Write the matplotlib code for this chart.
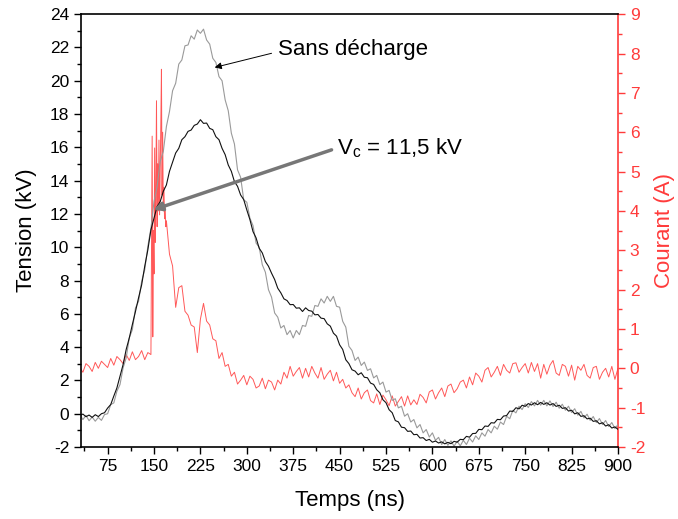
import numpy as np
import matplotlib
matplotlib.use("Agg")
import matplotlib.pyplot as plt
from matplotlib.ticker import MultipleLocator

plt.rcParams['font.family'] = ['Liberation Sans', 'DejaVu Sans']
plt.rcParams['axes.unicode_minus'] = False

# time base of the voltage records (ns)
t = np.arange(30, 901, 5)

# voltage with discharge (kV)
v_black = [-0.12, -0.02, -0.18, -0.08, -0.22, -0.06, -0.17, 0.00, 0.06, 0.34,
           0.55, 1.06, 1.55, 2.26, 2.95, 3.86, 4.55, 5.36, 6.14, 6.96,
           7.74, 8.86, 9.84, 11.05, 11.76, 12.45, 12.74, 13.36, 13.74, 14.56,
           15.12, 15.66, 15.94, 16.46, 16.64, 16.96, 17.04, 17.32, 17.40, 17.66,
           17.44, 17.46, 17.14, 17.06, 16.64, 16.46, 15.94, 15.56, 14.94, 14.56,
           13.94, 13.66, 13.14, 12.86, 12.24, 11.66, 10.94, 10.56, 9.94, 9.66,
           9.14, 8.86, 8.44, 8.06, 7.54, 7.26, 6.90, 6.80, 6.55, 6.56,
           6.34, 6.36, 6.14, 6.36, 6.20, 6.16, 5.94, 5.96, 5.74, 5.71,
           5.40, 5.26, 4.84, 4.66, 4.14, 3.86, 3.24, 3.01, 2.64, 2.56,
           2.34, 2.46, 2.19, 2.16, 1.84, 1.76, 1.44, 1.26, 0.84, 0.66,
           0.24, 0.06, -0.41, -0.49, -0.81, -0.84, -1.06, -1.04, -1.26, -1.24,
           -1.46, -1.44, -1.61, -1.54, -1.71, -1.64, -1.76, -1.69, -1.81, -1.72,
           -1.80, -1.66, -1.71, -1.54, -1.56, -1.36, -1.41, -1.19, -1.18, -0.94,
           -0.96, -0.74, -0.76, -0.54, -0.56, -0.34, -0.36, -0.14, -0.11, 0.16,
           0.14, 0.36, 0.29, 0.51, 0.44, 0.61, 0.52, 0.66, 0.54, 0.68,
           0.56, 0.66, 0.52, 0.61, 0.44, 0.51, 0.32, 0.36, 0.16, 0.21,
           -0.01, 0.06, -0.16, -0.12, -0.31, -0.27, -0.46, -0.42, -0.61, -0.54,
           -0.74, -0.66, -0.86, -0.79, -0.94]

# voltage without discharge (kV)
v_gray = [-0.05, -0.35, -0.10, -0.42, -0.20, -0.45, -0.22, -0.40, -0.05, 0.00,
          0.55, 0.65, 1.35, 1.75, 2.75, 3.35, 4.55, 5.05, 6.35, 6.75,
          7.95, 8.65, 10.05, 11.15, 12.75, 13.65, 15.15, 15.75, 17.25, 18.15,
          19.40, 19.85, 21.00, 21.25, 22.10, 22.15, 22.70, 22.50, 23.05, 22.85,
          23.10, 22.45, 22.20, 21.35, 21.10, 20.25, 20.00, 18.85, 18.20, 16.85,
          16.20, 14.65, 14.20, 12.85, 12.70, 11.75, 11.30, 10.25, 10.00, 8.95,
          8.50, 7.45, 7.00, 6.05, 5.80, 5.15, 5.30, 4.75, 5.00, 4.55,
          5.00, 4.75, 5.30, 5.25, 5.90, 5.85, 6.50, 6.45, 6.90, 6.65,
          7.05, 6.75, 7.05, 6.45, 6.40, 5.55, 5.20, 4.05, 3.80, 3.20,
          3.40, 2.90, 3.10, 2.60, 2.70, 2.15, 2.30, 1.75, 1.90, 1.30,
          1.40, 0.80, 0.90, 0.35, 0.45, -0.15, 0.00, -0.50, -0.35, -0.85,
          -0.65, -1.15, -0.95, -1.40, -1.15, -1.60, -1.42, -1.85, -1.55, -1.90,
          -1.63, -1.95, -1.65, -1.93, -1.60, -1.85, -1.47, -1.70, -1.33, -1.55,
          -1.15, -1.35, -0.95, -1.15, -0.75, -0.93, -0.50, -0.65, -0.15, -0.30,
          0.20, 0.05, 0.45, 0.25, 0.60, 0.37, 0.73, 0.47, 0.80, 0.51,
          0.80, 0.47, 0.77, 0.43, 0.69, 0.33, 0.57, 0.21, 0.45, 0.07,
          0.30, -0.09, 0.14, -0.25, -0.03, -0.40, -0.17, -0.53, -0.29, -0.65,
          -0.41, -0.77, -0.53, -0.89, -0.65]

# current (A): before breakdown, breakdown spikes (1 ns), after
t_pre = np.arange(30, 141, 5)
i_pre = [0.02, -0.10, 0.12, 0.05, -0.08, 0.15, 0.00, 0.18, 0.10, 0.02,
         0.25, 0.08, 0.30, 0.22, 0.12, 0.35, 0.20, 0.42, 0.22, 0.30,
         0.45, 0.22, 0.40]
t_spk = np.arange(145, 170, 1)
i_spk = [0.35, 3.0, 5.9, 0.8, 3.5, 2.4, 5.6, 3.2, 4.5, 6.8,
         3.6, 5.2, 4.0, 5.8, 3.9, 5.0, 6.2, 7.6, 4.4, 6.0,
         4.0, 4.6, 3.8, 4.1, 3.6]
t_post = np.arange(170, 901, 5)
i_post = [3.75, 2.90, 2.60, 1.55, 2.05, 2.10, 1.45, 1.35, 1.10, 1.05,
          0.40, 1.25, 1.65, 1.20, 1.10, 0.75, 0.70, 0.25, 0.40, 0.05,
          0.10, -0.20, -0.10, -0.40, -0.30, -0.18, -0.42, -0.20, -0.28, -0.50,
          -0.45, -0.25, -0.52, -0.30, -0.35, -0.55, -0.30, -0.40, -0.10, -0.25,
          0.05, -0.20, -0.08, 0.02, -0.25, 0.00, -0.22, 0.05, -0.12, -0.25,
          0.02, -0.28, -0.15, -0.05, -0.32, -0.10, -0.38, -0.28, -0.50, -0.42,
          -0.62, -0.72, -0.50, -0.78, -0.62, -0.55, -0.82, -0.88, -0.65, -0.92,
          -0.68, -0.80, -0.95, -0.70, -0.96, -0.84, -0.72, -0.96, -0.70, -0.93,
          -0.80, -0.92, -0.66, -0.74, -0.88, -0.60, -0.55, -0.78, -0.62, -0.50,
          -0.72, -0.45, -0.40, -0.62, -0.52, -0.35, -0.30, -0.50, -0.22, -0.42,
          -0.12, -0.20, -0.35, -0.05, 0.02, -0.22, -0.10, 0.05, -0.18, 0.10,
          -0.05, -0.12, 0.12, 0.14, -0.10, 0.02, 0.12, -0.12, 0.15, -0.08,
          0.12, -0.25, 0.10, -0.15, 0.08, 0.20, -0.12, -0.18, 0.10, 0.05,
          -0.20, 0.08, -0.30, 0.05, -0.05, 0.10, -0.18, -0.25, 0.02, 0.05,
          -0.28, -0.10, 0.00, -0.22, 0.05, -0.28, 0.00]

t_cur = np.concatenate([t_pre, t_spk, t_post])
i_cur = np.concatenate([i_pre, i_spk, i_post])

red = '#ff3b3b'

fig = plt.figure(figsize=(6.78, 5.19), dpi=100)
ax = fig.add_axes([0.1195, 0.1387, 0.792, 0.834])
ax2 = ax.twinx()
ax.set_zorder(ax2.get_zorder() + 1)
ax.patch.set_visible(False)

ax2.plot(t_cur, i_cur, color=red, lw=0.7, alpha=0.85)
ax.plot(t, v_gray, color='#9a9a9a', lw=0.8)
ax.plot(t, v_black, color='#111111', lw=0.8)

ax.set_xlim(32, 900)
ax.set_ylim(-2, 24)
ax2.set_ylim(-2, 9)

ax.xaxis.set_major_locator(MultipleLocator(75))
ax.xaxis.set_minor_locator(MultipleLocator(37.5))
ax.yaxis.set_major_locator(MultipleLocator(2))
ax.yaxis.set_minor_locator(MultipleLocator(1))
ax2.yaxis.set_major_locator(MultipleLocator(1))
ax2.yaxis.set_minor_locator(MultipleLocator(0.5))

ax.tick_params(which='major', direction='out', length=5, width=1, labelsize=12.5)
ax.tick_params(which='minor', direction='out', length=3, width=1)
ax2.tick_params(which='major', direction='out', length=5, width=1,
                labelsize=12.5, colors=red)
ax2.tick_params(which='minor', direction='out', length=3, width=1, colors=red)

for s in ax.spines.values():
    s.set_linewidth(1.2)
ax.spines['right'].set_visible(False)
ax2.spines['right'].set_color(red)
ax2.spines['right'].set_linewidth(1.2)
ax2.spines['left'].set_visible(False)
ax2.spines['top'].set_visible(False)
ax2.spines['bottom'].set_visible(False)

ax.set_xlabel('Temps (ns)', fontsize=16, labelpad=12)
ax.set_ylabel('Tension (kV)', fontsize=16, labelpad=9)
ax2.set_ylabel('Courant (A)', fontsize=16, color=red, labelpad=6)

# annotations: arrows and texts drawn separately
ax.annotate('', xy=(248, 20.8), xytext=(340, 21.65),
            arrowprops=dict(arrowstyle='-|>', color='black', lw=0.7,
                            mutation_scale=10, shrinkA=0, shrinkB=0))
ax.text(350, 21.85, 'Sans décharge', fontsize=16, va='center', ha='left')
ax.annotate('', xy=(149, 12.25), xytext=(437, 15.85),
            arrowprops=dict(arrowstyle='-|>', color='#777777', lw=2.5,
                            mutation_scale=12, shrinkA=0, shrinkB=0))
ax.text(446, 15.95, r'V$_\mathregular{c}$ = 11,5 kV', fontsize=16,
        va='center', ha='left')

fig.savefig('out.png', dpi=100)
